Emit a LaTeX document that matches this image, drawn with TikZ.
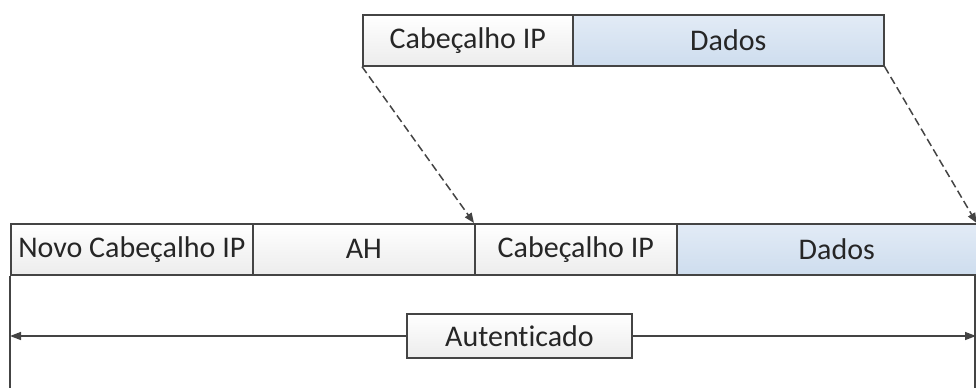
\documentclass[tikz,border=0pt]{standalone}
\usepackage{fontspec}
\setmainfont[Ligatures=NoCommon]{Carlito}
\usetikzlibrary{arrows.meta}
\definecolor{edge}{RGB}{68,68,68}
\definecolor{bluetop}{RGB}{226,235,246}
\definecolor{bluebot}{RGB}{206,221,238}
\definecolor{greybot}{RGB}{236,236,236}
\begin{document}
\begin{tikzpicture}[x=1pt,y=-1pt,
  field/.style={draw=edge,line width=1.6pt,minimum height=51pt,inner sep=0pt,
    anchor=north west,font=\fontsize{30}{33}\selectfont,text=black!85},
  plain/.style={field,top color=white,bottom color=greybot},
  payload/.style={field,top color=bluetop,bottom color=bluebot},
  link/.style={draw=edge,line width=1.5pt,dash pattern=on 8pt off 4pt,
    -{Triangle[length=10pt,width=8pt]}},
  span/.style={draw=edge,line width=1.5pt,-{Triangle[length=11pt,width=8pt]}}]
\useasboundingbox (0,0) rectangle (976,388);
\clip (0,0) rectangle (976,388);
% original packet
\node[plain,minimum width=210pt] (ip1) at (362,14) {Cabeçalho IP};
\node[payload,minimum width=311pt] (d1) at (572,14) {Dados};
% tunnel-mode packet with AH
\node[plain,minimum width=242pt] (nip) at (10,223) {Novo Cabeçalho IP};
\node[plain,minimum width=222pt] (ah) at (252,223) {AH};
\node[plain,minimum width=202pt] (ip2) at (474,223) {Cabeçalho IP};
\node[payload,minimum width=320pt] (d2) at (676,223) {Dados};
% mapping of the original packet into the new one
\draw[link] (ip1.south west) -- (ip2.north west);
\draw[link] (d1.south east) -- ([xshift=299pt]ip2.north east);
% authenticated span
\coordinate (lft) at (10,336);
\coordinate (rgt) at (976,336);
\draw[edge,line width=1.5pt] (nip.south west) -- (10,388);
\draw[edge,line width=1.5pt] (975,274) -- (975,388);
\node[plain,minimum width=225pt,minimum height=44pt,anchor=center] (aut) at (519.5,336) {Autenticado};
\draw[span] (aut.west) -- (lft);
\draw[span] (aut.east) -- (rgt);
\end{tikzpicture}
\end{document}
